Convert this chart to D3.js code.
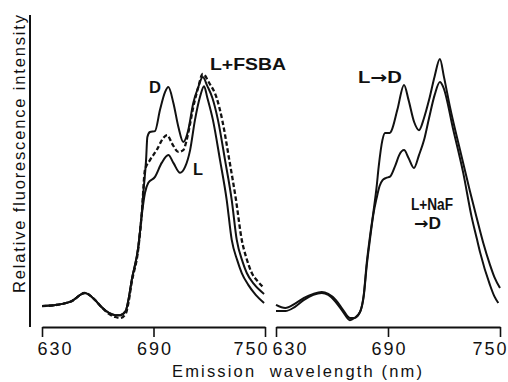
<!DOCTYPE html>
<html>
<head>
<meta charset="utf-8">
<script src="https://cdn.jsdelivr.net/npm/d3@7"></script>
<style>
  html, body { margin: 0; padding: 0; background: #fff; }
  svg { display: block; }
  text { font-family: "Liberation Sans", Arial, sans-serif; fill: #111; }
</style>
</head>
<body>
<svg id="chart" width="508" height="382"></svg>
<script>
// ---------- data (emission wavelength in nm, relative intensity 0-100) ----------
const xTicks = [630, 690, 750];

// Left panel
const wlD = [630,638,646,653,658.5,662,666,669.5,672,675,676.5,678.3,681.8,683.7,684.5,686,686.7,688.1,690.8,693.5,696.2,698,700.7,703.4,706,708.7,711.4,714.1,716.5,719,721.7,724.7,728.5,732.1,734.8,738,740.2,744,749.5];
const valD = [6.7,7.1,8.3,10.9,8.7,6.4,4.5,3.8,3.8,5.1,8.7,15.1,25.6,36.5,42.9,53.5,60.9,62.5,62.8,69.6,75.3,76.9,71.8,64.1,59.3,63.1,71.8,76.9,80.1,77.2,73.4,66.3,53.5,40.7,27.9,20.8,17.3,13.8,10.6];

const wlFSBA = [630,638,646,653,658.5,662,666,669.5,672,675,676.5,678.3,681.8,683.7,685.4,688.1,691.7,695.3,697.4,699.8,703.4,706,708.7,711.4,714.1,716.5,720,724,727,730.8,734.4,737.5,740,742.9,746,749.5];
const valFSBA = [6.7,7.1,8.3,10.9,8.7,6.4,4.2,3.2,2.9,4.2,7.7,14.4,25.0,36.5,50.3,53.5,56.7,60.6,61.5,59.0,56.1,56.7,62.2,70.5,76.9,81.1,78.2,73.4,66.3,53.5,40.7,27.9,22.1,17.3,14.7,12.5];

const wlL = [630,638,646,653,658.5,662,666,669.5,672,675,676.5,678.3,681.8,683.7,685.4,687.2,690.8,694.4,698,700.7,704.3,707,709.7,712.3,715,717.2,719,722,725.8,729.4,732.1,735,737.5,741,745,749.5];
const valL = [6.7,7.1,8.3,10.9,8.7,6.4,4.5,3.8,3.8,5.1,8.7,15.1,25.6,35.9,42.9,46.2,48.1,52.6,55.1,52.6,49.4,51.3,56.7,66.3,73.7,77.2,73.4,66.3,53.5,40.7,27.9,21.5,17.3,13.5,10.3,7.7];

// Right panel
const wlLD = [630,635,640,645,650,654.5,658,662,666,669.6,672,675,677,678.6,680.3,682.1,683.9,685,687,688.4,691,692,695,698.6,701,704,706.6,709.3,712,715,717.8,720,723.2,728.6,733.9,737.5,741,744.6,747,750];
const valLD = [7.1,6.1,7.4,9.3,10.6,11.2,10.6,8.7,5.4,2.9,2.9,4.8,10.3,20.5,28.8,36.5,44.9,51.3,59.9,62.2,62.2,63.1,69.6,77.6,72.8,65.7,63.1,67.0,72.8,80.4,85.9,80.1,70.5,56.7,43.5,35.0,27.0,20.0,16.0,12.5];

const wlNaF = [630,635,640,645,650,654.5,658,662,666,669.6,672,675,677,678.6,680.3,682.1,683.9,685.5,687.1,689,691.1,694,696,698.6,701,703.9,706.6,709.3,712,715,717.8,719.6,725,730.3,734.8,737.5,739.3,744.6,747,749.1];
const valNaF = [5.1,5.1,6.4,8.7,10.3,10.9,10.3,8.0,4.8,2.2,2.9,4.8,9.9,19.6,27.9,35.9,41.3,45.2,47.1,47.8,48.2,51.9,55.1,56.7,54.2,51.0,55.1,59.9,67.0,74.4,78.5,76.9,63.1,49.4,35.3,28.5,24.0,13.5,9.8,7.7];

// ---------- drawing ----------
const svg = d3.select("#chart");
const y = d3.scaleLinear().domain([0, 100]).range([327, 15]);
const xLeft = d3.scaleLinear().domain([630, 750]).range([42, 265]);
const xRight = d3.scaleLinear().domain([630, 750]).range([276, 500]);

function drawSeries(xs, wl, val, dashed) {
  const line = d3.line()
    .x(d => xs(d[0]))
    .y(d => y(d[1]))
    .curve(d3.curveMonotoneX);
  svg.append("path")
    .datum(d3.zip(wl, val))
    .attr("d", line)
    .attr("fill", "none")
    .attr("stroke", "#111")
    .attr("stroke-width", dashed ? 2.3 : 2)
    .attr("stroke-linejoin", "round")
    .attr("stroke-dasharray", dashed ? "4.5,2.5" : null);
}

drawSeries(xLeft, wlL, valL, false);
drawSeries(xLeft, wlD, valD, false);
drawSeries(xLeft, wlFSBA, valFSBA, true);
drawSeries(xRight, wlNaF, valNaF, false);
drawSeries(xRight, wlLD, valLD, false);

// x axes
function drawXAxis(xs, startDx, endDx) {
  const g = svg.append("g").attr("transform", "translate(0,327)")
    .call(d3.axisBottom(xs).tickValues(xTicks).tickSize(10).tickSizeOuter(0).tickPadding(5).tickFormat(d3.format("d")));
  g.select(".domain").attr("stroke", "#111").attr("stroke-width", 2.2);
  g.selectAll(".tick line").attr("stroke", "#111").attr("stroke-width", 1.6);
  g.selectAll(".tick text")
    .attr("font-size", 18)
    .attr("font-family", "Liberation Sans, Arial, sans-serif")
    .attr("fill", "#111")
    .attr("textLength", 34)
    .attr("lengthAdjust", "spacing")
    .attr("text-anchor", (d, i) => i === 0 ? "start" : (i === xTicks.length - 1 ? "end" : "middle"))
    .attr("dx", (d, i) => i === 0 ? startDx : (i === xTicks.length - 1 ? endDx : 0));
}
drawXAxis(xLeft, -5, 2);
drawXAxis(xRight, -4, 6);

// y axis line (left panel only)
svg.append("line")
  .attr("x1", 30).attr("x2", 30)
  .attr("y1", y(100)).attr("y2", y(0))
  .attr("stroke", "#111").attr("stroke-width", 2);

// axis titles
svg.append("text")
  .attr("transform", "translate(25,154) rotate(-90)")
  .attr("text-anchor", "middle")
  .attr("font-size", 16.5)
  .attr("textLength", 278)
  .attr("lengthAdjust", "spacing")
  .text("Relative fluorescence intensity");

svg.append("text")
  .attr("x", 172).attr("y", 377)
  .attr("font-size", 16.5)
  .attr("textLength", 250)
  .attr("lengthAdjust", "spacing")
  .style("white-space", "pre")
  .text("Emission  wavelength (nm)");

// curve labels (parts: [text, isArrow])
const labels = [
  { parts: [["D", false]], x: 149, y: 93, fs: 16, len: 12, w: "bold" },
  { parts: [["L", false]], x: 193, y: 175, fs: 16, len: 10, w: "bold" },
  { parts: [["L+FSBA", false]], x: 210, y: 70, fs: 17, len: 76, w: "bold" },
  { parts: [["L", false], ["→", true], ["D", false]], x: 358, y: 83, fs: 16.5, len: 44, w: "bold" },
  { parts: [["L+NaF", false]], x: 411, y: 210, fs: 16, len: 42, w: "bold" },
  { parts: [["→", true], ["D", false]], x: 414, y: 229, fs: 16, len: 27, w: "bold" }
];
labels.forEach(l => {
  const t = svg.append("text")
    .attr("x", l.x).attr("y", l.y)
    .attr("font-size", l.fs)
    .attr("font-weight", l.w)
    .attr("textLength", l.len)
    .attr("lengthAdjust", "spacingAndGlyphs");
  l.parts.forEach(p => {
    t.append("tspan")
      .attr("font-family", p[1] ? "DejaVu Sans, sans-serif" : null)
      .text(p[0]);
  });
});
</script>
</body>
</html>
